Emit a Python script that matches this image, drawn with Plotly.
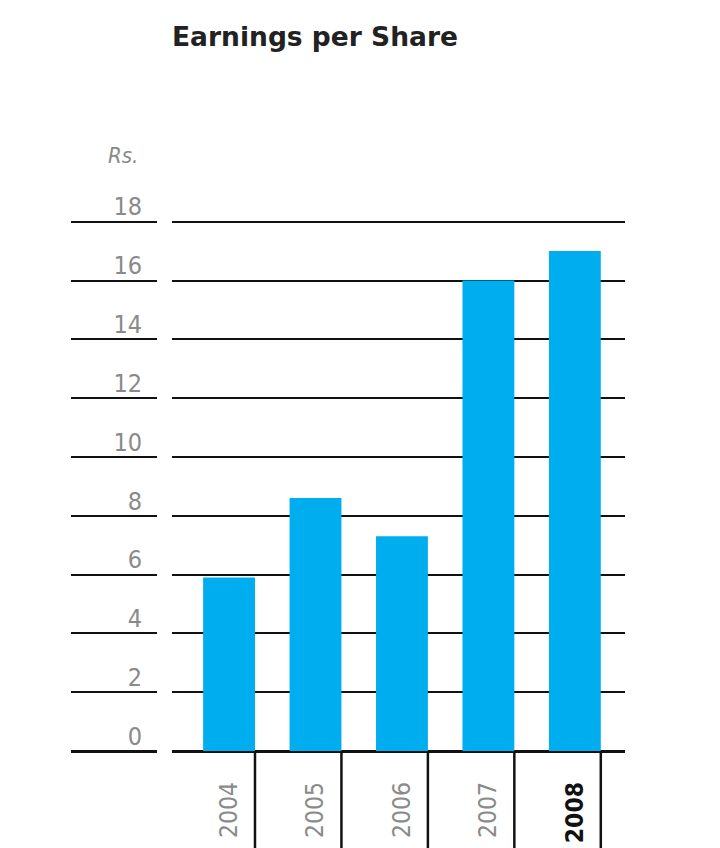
import plotly.graph_objects as go

years = ["2004", "2005", "2006", "2007", "2008"]
eps = [5.9, 8.6, 7.3, 16.0, 17.0]
y_ticks = [0, 2, 4, 6, 8, 10, 12, 14, 16, 18]

OFF = 8  # page body margin in the rendered html
W, H = 720, 848
Y_TOP = 18.5
px_per_unit = (751 - 222) / 18
plot_bottom = 751 - OFF
plot_top = 751 - Y_TOP * px_per_unit - OFF
ml = 71 - OFF
mr = W - (625 - OFF)
mt = plot_top
mb = H - plot_bottom
plot_w = W - ml - mr
plot_h = H - mt - mb
main_start = (172 - 71) / plot_w
left_end = (157 - 71) / plot_w

BAR_W = 0.6
positions = list(range(len(years)))
tick_text = [f"<b><span style='color:#111'>{y}</span></b>" if y == "2008" else y for y in years]

fig = go.Figure()
fig.add_trace(go.Bar(x=positions, y=eps, width=BAR_W, marker=dict(color="#00AEEF", line=dict(width=0)),
                     hoverinfo="skip", showlegend=False))
fig.add_trace(go.Scatter(x=[0, 1], y=[0, 18], xaxis="x2", yaxis="y2", mode="markers",
                         marker=dict(opacity=0), hoverinfo="skip", showlegend=False))

font_fam = "Liberation Sans Narrow, DejaVu Sans Condensed, sans-serif"
ytick_font = dict(family=font_fam, size=25, color="#8a8a8a")
xtick_font = dict(family=font_fam, size=24.5, color="#8a8a8a")

fig.update_layout(
    template="none",
    width=W, height=H,
    margin=dict(l=ml, r=mr, t=mt, b=mb, pad=0, autoexpand=False),
    plot_bgcolor="white", paper_bgcolor="white",
    bargap=0.4,
    title=dict(text="<b>Earnings per Share</b>", x=(315 - OFF) / W, xanchor="center", y=1 - (37 - OFF) / H,
               yanchor="middle", font=dict(family="DejaVu Sans, sans-serif", size=26.5, color="#222222")),
    xaxis=dict(domain=[main_start, 1], range=[-0.66, 4.58], tickvals=positions, ticktext=tick_text,
               tickangle=-90, ticks="", showgrid=False, zeroline=False, showline=False, automargin=False,
               ticklabelstandoff=25, tickfont=xtick_font),
    yaxis=dict(anchor="x", range=[0, Y_TOP], tickvals=y_ticks, showgrid=True, gridcolor="#111111", gridwidth=2,
               zeroline=True, zerolinecolor="#111111", zerolinewidth=2.5, showline=False, ticks="",
               automargin=False, ticklabelshift=-15, ticklabelstandoff=29, tickfont=ytick_font),
    xaxis2=dict(domain=[0, left_end], range=[0, 1], anchor="y2", visible=False, automargin=False),
    yaxis2=dict(anchor="x2", range=[0, Y_TOP], tickvals=y_ticks, showgrid=True, gridcolor="#111111", gridwidth=2,
                zeroline=True, zerolinecolor="#111111", zerolinewidth=2.5, showticklabels=False, ticks="",
                showline=False, automargin=False),
)

# separator lines below the axis, at the right edge of each bar
for p in positions:
    fig.add_shape(type="line", xref="x", yref="paper", x0=p + BAR_W / 2, x1=p + BAR_W / 2,
                  y0=0, y1=-(mb + 5) / plot_h, line=dict(color="#111111", width=2.5))

fig.add_annotation(text="<i>Rs.</i>", xref="paper", yref="paper", x=(140 - 71) / plot_w, xanchor="right",
                   y=1 + (plot_top - (156 - OFF)) / plot_h, yanchor="middle", showarrow=False,
                   font=dict(family=font_fam, size=22, color="#8a8a8a"))

fig.write_html("out.html")
